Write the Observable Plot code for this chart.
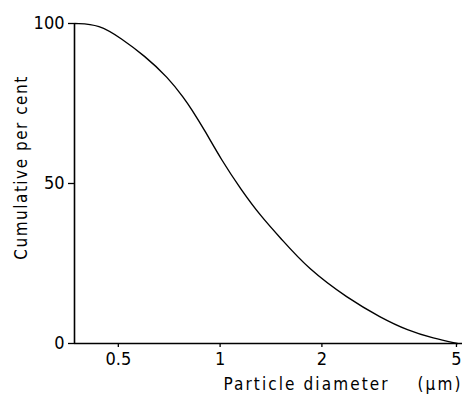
<!DOCTYPE html>
<html><head><meta charset="utf-8">
<script src="https://cdn.jsdelivr.net/npm/d3@7"></script>
<script src="https://cdn.jsdelivr.net/npm/@observablehq/plot@0.6"></script>
<style>body{margin:0;background:#fff} svg text{white-space:pre}</style>
</head><body><div id="chart"></div>
<script>
const diameter   = [0.371, 0.44, 0.51, 0.597, 0.702, 0.783, 0.821, 0.897, 1.007, 1.153, 1.321, 1.513, 1.818, 2.386, 2.985, 3.585, 4.279, 5.03];
const cumulative = [100, 99.7, 95.3, 90.0, 83.1, 76.6, 73.4, 66.9, 57.5, 48.1, 39.7, 32.8, 23.4, 14.1, 8.1, 4.1, 1.6, 0];
const xTicks = [0.5, 1, 2, 5];
const xTickLabels = ["0.5", "1", "2", "5"];
const yTicks = [0, 50, 100];
const yTickLabels = ["0", "50", "100"];
const xLabel = "Particle diameter    (\u00b5m)";
const yLabel = "Cumulative per cent";
const xDomain = [0.371, 5.21];

const data = diameter.map((d, i) => ({d, p: cumulative[i]}));
const font = "'DejaVu Sans Condensed','DejaVu Sans',sans-serif";

const chart = Plot.plot({
  width: 467, height: 394,
  marginLeft: 74, marginRight: 5, marginTop: 23, marginBottom: 51,
  style: {fontFamily: font, fontSize: "17px", color: "#000", background: "#fff"},
  x: {type: "log", domain: xDomain},
  y: {domain: [0, 100]},
  marks: [
    Plot.axisX(xTicks, {tickSize: 4, strokeWidth: 1.3, tickFormat: () => "", label: null}),
    Plot.text(xTicks, {x: d => d, text: d => xTickLabels[xTicks.indexOf(d)], frameAnchor: "bottom", lineAnchor: "top", dy: 9, fontSize: 18}),
    Plot.axisY(yTicks, {tickSize: 6, tickPadding: 4, strokeWidth: 1.3, fontSize: 18, tickFormat: d => yTickLabels[yTicks.indexOf(d)], label: null}),
    Plot.ruleY([0], {strokeWidth: 1.6}),
    Plot.ruleX([xDomain[0]], {strokeWidth: 1.6}),
    Plot.line(data, {x: "d", y: "p", curve: "basis", strokeWidth: 1.4}),
    Plot.text([xLabel], {frameAnchor: "bottom-right", textAnchor: "end", lineAnchor: "middle", dy: 41, fontSize: 17}),
    Plot.text([yLabel], {frameAnchor: "left", textAnchor: "middle", lineAnchor: "middle", rotate: -90, dx: -53, dy: -16, fontSize: 17})
  ]
});
chart.querySelectorAll("text").forEach(t => {
  const s = t.textContent;
  if (s === xLabel) t.style.letterSpacing = "2.1px";
  if (s === yLabel) t.style.letterSpacing = "1.5px";
});
document.getElementById("chart").append(chart);
</script>
</body></html>
